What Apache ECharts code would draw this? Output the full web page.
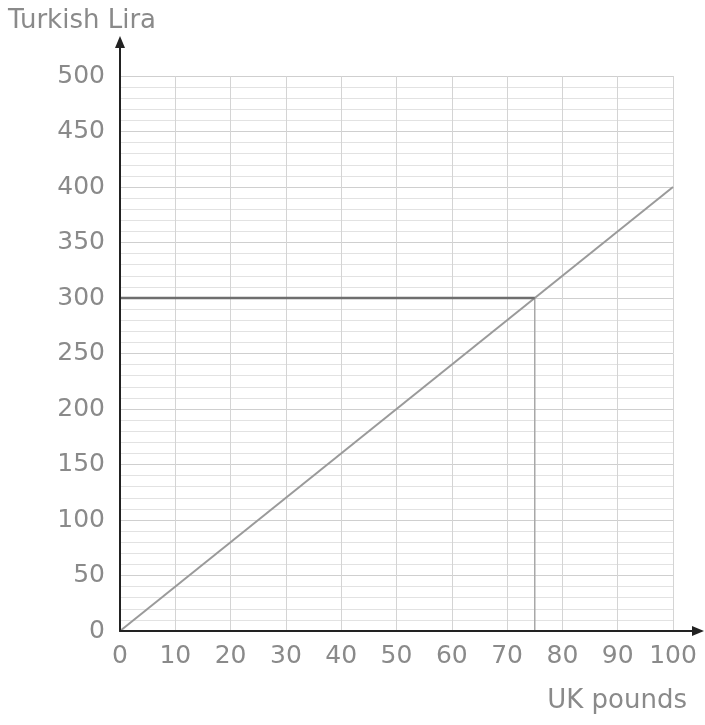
<!DOCTYPE html>
<html><head><meta charset="utf-8">
<script src="https://cdn.jsdelivr.net/npm/echarts@6/dist/echarts.min.js"></script>
<style>html,body{margin:0;padding:0;background:#fff}#c{width:705px;height:725px}</style>
</head><body><div id="c"></div>
<script>
const xTicks = [0,10,20,30,40,50,60,70,80,90,100];
const yTicks = [0,50,100,150,200,250,300,350,400,450,500];
const conversionLine = [[0,0],[100,400]];
const readHorizontal = [[0,300],[75,300]];
const readVertical = [[75,0],[75,300]];
const xName = 'UK pounds';
const yName = 'Turkish Lira';

const FONT = '"DejaVu Sans", sans-serif';
const chart = echarts.init(document.getElementById('c'), null, {renderer:'canvas'});
const option = {
  animation:false,
  backgroundColor:'#fff',
  grid:{left:120,right:32,top:76,bottom:94},
  xAxis:{type:'value',min:xTicks[0],max:xTicks[xTicks.length-1],interval:10,
    axisLine:{show:true,onZero:false,lineStyle:{color:'#222',width:2}},
    axisTick:{show:false},
    axisLabel:{color:'#8a8a8a',fontSize:25,fontFamily:FONT,margin:13},
    splitLine:{show:true,lineStyle:{color:'#d4d4d4',width:1}}
  },
  yAxis:{type:'value',min:yTicks[0],max:yTicks[yTicks.length-1],interval:50,
    axisLine:{show:true,onZero:false,lineStyle:{color:'#222',width:2}},
    axisTick:{show:false},
    axisLabel:{color:'#8a8a8a',fontSize:25,fontFamily:FONT,margin:15},
    splitLine:{show:true,lineStyle:{color:'#cfcfcf',width:1}},
    minorTick:{show:false,splitNumber:5},
    minorSplitLine:{show:true,lineStyle:{color:'#e2e2e2',width:1}}
  },
  series:[
    {type:'line',data:conversionLine,symbol:'none',lineStyle:{color:'#9a9a9a',width:2},z:5},
    {type:'line',data:readHorizontal,symbol:'none',lineStyle:{color:'#6e6e6e',width:2.5},z:6},
    {type:'line',data:readVertical,symbol:'none',lineStyle:{color:'#a8a8a8',width:1.5},z:4}
  ]
};
chart.setOption(option);
const o = chart.convertToPixel({gridIndex:0},[0,0]);
chart.setOption({graphic:[
  {type:'line',shape:{x1:o[0],y1:o[1],x2:o[0],y2:42},style:{stroke:'#222',lineWidth:2},z:10},
  {type:'polygon',shape:{points:[[o[0],36],[o[0]-5,48],[o[0]+5,48]]},style:{fill:'#222'},z:10},
  {type:'line',shape:{x1:o[0],y1:o[1],x2:698,y2:o[1]},style:{stroke:'#222',lineWidth:2},z:10},
  {type:'polygon',shape:{points:[[704,o[1]],[692,o[1]-5],[692,o[1]+5]]},style:{fill:'#222'},z:10},
  {type:'text',left:8,top:8,style:{text:yName,fill:'#8a8a8a',font:'26px '+FONT}},
  {type:'text',right:18,top:688,style:{text:xName,fill:'#8a8a8a',font:'26px '+FONT}}
]});
</script></body></html>
